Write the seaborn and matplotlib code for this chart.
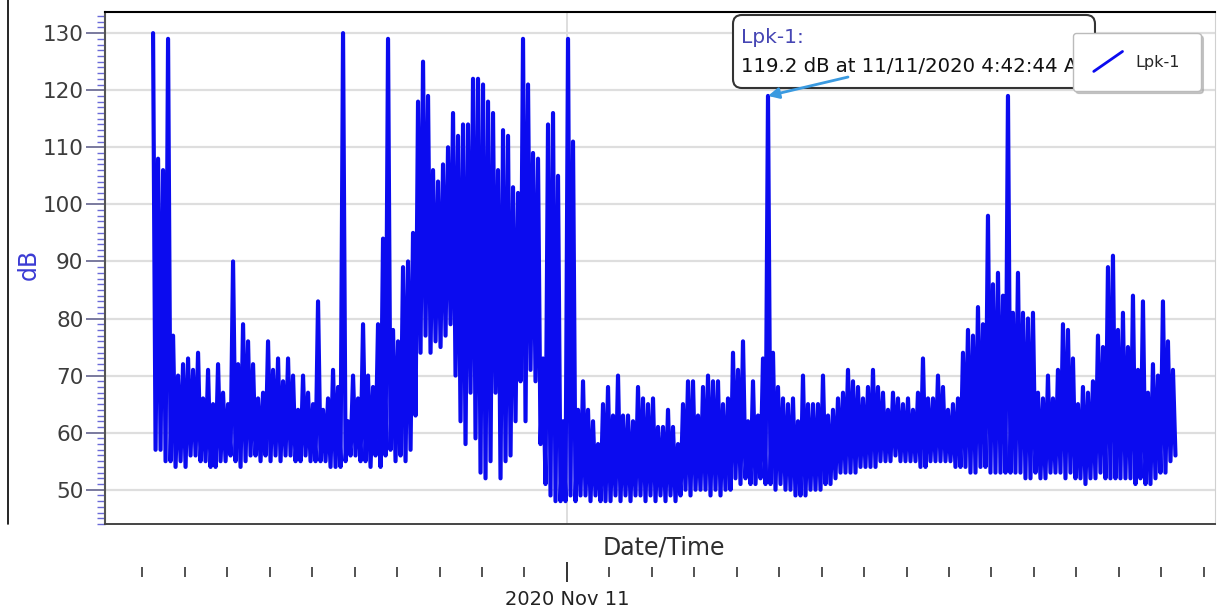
import matplotlib
matplotlib.use("Agg")
import matplotlib.pyplot as plt
import matplotlib.dates as mdates
from matplotlib.ticker import MultipleLocator
from matplotlib.lines import Line2D
from matplotlib.patches import FancyBboxPatch
from matplotlib.legend_handler import HandlerBase
import pandas as pd
import seaborn as sns

# Sampling of the logger trace (alternating upper / lower readings)
START = "2020-11-10 14:15:00"
STEP = "212s"
X_MIN = "2020-11-10 13:07"
X_MAX = "2020-11-11 15:16"

# Lpk-1 readings in dB, split by time span
seg_a = [130, 57, 108, 57, 106, 55, 129, 55, 77, 54, 70, 55, 72, 54, 73, 56, 71, 56, 74, 55,
         66, 55, 71, 54, 65, 54, 72, 55, 67, 55, 65, 56, 90, 55, 72, 54, 79, 55, 76, 56,
         72, 56, 66, 55, 67, 56, 76, 55, 71, 56, 73, 55, 69, 56, 73, 56, 70, 55, 64, 55,
         70, 56, 67, 55, 65, 55, 83, 55, 64, 55, 66, 54, 71, 54, 68, 54, 130, 55, 62, 56]
seg_b = [70, 56, 66, 55, 79, 55, 70, 54, 68, 56, 79, 54, 94, 56, 129, 57, 78, 55, 76, 56,
         89, 55, 90, 57, 95, 63, 118, 74, 125, 77, 119, 74, 106, 76, 104, 75, 107, 77, 110, 79,
         116, 70, 112, 62, 114, 58, 114, 67, 122, 59, 122, 53, 121, 52, 118, 55, 116, 67, 106, 52,
         113, 55, 112, 56, 103, 62, 102, 69, 129, 62, 121, 71, 109, 69, 108, 58, 73, 51, 114, 49,
         116, 48, 105, 48]
seg_c = [62, 48, 129, 49, 111, 48, 64, 49, 69, 49, 64, 48, 62, 49, 58, 48, 65, 48, 68, 48,
         63, 49, 70, 48, 63, 49, 63, 48, 62, 49, 68, 49, 66, 48, 65, 49, 66, 48, 61, 49,
         61, 48, 64, 49, 61, 48, 58, 49, 65, 50, 69, 49, 69, 50, 63, 50, 68, 50, 70, 49,
         69, 50, 69, 49, 65, 50, 66, 50, 74, 52, 71, 51, 76, 52, 62, 51, 69, 51, 63, 52,
         73, 51]
seg_d = [119, 51, 74, 50, 68, 51, 66, 50, 65, 50, 66, 49, 62, 49, 70, 49, 65, 50, 65, 50,
         65, 50, 70, 51, 63, 51, 64, 52, 66, 53, 67, 53, 71, 53, 69, 53, 68, 54, 66, 54,
         68, 54, 71, 54, 68, 55, 67, 55, 64, 55, 67, 56, 66, 55, 65, 55, 66, 55, 64, 55,
         67, 54, 73, 54, 66, 55, 66, 55, 70, 55, 68, 55, 64, 55, 65, 54, 66, 54, 74, 54,
         78, 53]
seg_e = [77, 53, 82, 54, 79, 54, 98, 53, 86, 53, 88, 53, 84, 53, 119, 53, 81, 53, 88, 53,
         81, 52, 80, 52, 81, 53, 67, 52, 66, 52, 70, 53, 66, 53, 71, 53, 79, 52, 78, 53,
         73, 52, 65, 52, 68, 51, 67, 52, 69, 52, 77, 53, 75, 52, 89, 52, 91, 52, 78, 52,
         81, 52, 75, 52, 84, 51, 71, 52, 83, 51, 67, 51, 72, 52, 70, 53, 83, 53, 76, 55,
         71, 56]

Y_TICKS = [50, 60, 70, 80, 90, 100, 110, 120, 130]
SERIES = "Lpk-1"
PEAK_TEXT = "119.2 dB at 11/11/2020 4:42:44 AM"
PEAK_WINDOW = ("2020-11-11 03:00", "2020-11-11 07:00")

LINE_COLOR = "#0b0bef"


class DiagonalLineHandler(HandlerBase):
    # legend sample drawn as a slanted stroke
    def create_artists(self, legend, orig_handle, xdescent, ydescent,
                       width, height, fontsize, trans):
        line = Line2D([-xdescent, -xdescent + width],
                      [-ydescent - 0.15 * height, -ydescent + 1.15 * height],
                      color=orig_handle.get_color(), lw=2.0)
        line.set_transform(trans)
        return [line]


values = seg_a + seg_b + seg_c + seg_d + seg_e
df = pd.DataFrame({"time": pd.date_range(START, periods=len(values), freq=STEP),
                   "dB": values})

sns.set_style("white")
plt.rcParams["font.family"] = ["DejaVu Sans"]

fig = plt.figure(figsize=(12.19, 6.10), dpi=100, facecolor="white")
ax = fig.add_axes([0.0861, 0.1410, 0.9106, 0.8393])
tick_ax = fig.add_axes([0.0861, 0.0623, 0.9106, 0.0001], sharex=ax)

sns.lineplot(data=df, x="time", y="dB", ax=ax, color=LINE_COLOR, lw=3.0,
             estimator=None, sort=False, label=SERIES, zorder=3)

# axes limits and ticks
ax.set_xlim(pd.Timestamp(X_MIN), pd.Timestamp(X_MAX))
ax.set_ylim(44.0, 133.7)
ax.set_yticks(Y_TICKS)
ax.yaxis.set_minor_locator(MultipleLocator(1))
ax.xaxis.set_major_locator(mdates.DayLocator())
ax.xaxis.set_minor_locator(mdates.HourLocator())
ax.xaxis.set_major_formatter(mdates.DateFormatter("%Y %b %d"))

ax.grid(axis="y", which="major", color="#dedede", lw=1.6)
ax.grid(axis="x", which="major", color="#dedede", lw=1.4)
ax.set_axisbelow(True)

ax.tick_params(axis="x", which="both", length=0, bottom=False, labelbottom=False)
ax.tick_params(axis="y", which="major", left=True, length=13.5, width=1.4, color="#7a7a9e",
               labelsize=15.5, labelcolor="#3c3c3c", pad=2)
ax.tick_params(axis="y", which="minor", left=True, length=5.5, width=1.0, color="#6a6ad8")

ax.spines["top"].set_color("black")
ax.spines["top"].set_linewidth(1.5)
ax.spines["left"].set_color("#555555")
ax.spines["left"].set_linewidth(1.5)
ax.spines["bottom"].set_color("#444444")
ax.spines["bottom"].set_linewidth(1.4)
ax.spines["right"].set_color("#d0d0d0")

ax.set_xlabel("Date/Time", fontsize=17, color="#2e2e2e")
ax.xaxis.set_label_coords(0.5036, -0.022)
ax.set_ylabel("dB", fontsize=17, color="#3b3bd4")
ax.yaxis.set_label_coords(-0.058, 0.506)

# detached tick row under the plot
for side in ["top", "bottom", "left", "right"]:
    tick_ax.spines[side].set_visible(False)
tick_ax.patch.set_alpha(0)
tick_ax.set_yticks([])
tick_ax.tick_params(axis="x", which="major", bottom=True, direction="inout", length=14.4,
                    width=1.4, color="#333333", labelsize=14, labelcolor="#222222", pad=6)
tick_ax.tick_params(axis="x", which="minor", bottom=True, direction="inout", length=7.2,
                    width=1.3, color="#444444")
tick_ax.set_xlabel("")

# peak annotation
win = df[(df["time"] > PEAK_WINDOW[0]) & (df["time"] < PEAK_WINDOW[1])]
peak = win.loc[win["dB"].idxmax()]

box = FancyBboxPatch((0.5658, 0.8516), 0.3261, 0.1426,
                     boxstyle="round,pad=0,rounding_size=0.008",
                     mutation_aspect=1110 / 512, transform=ax.transAxes,
                     facecolor="white", edgecolor="#333333", lw=1.5, zorder=4,
                     clip_on=False)
ax.add_patch(box)
ax.text(0.5730, 0.951, SERIES + ":", transform=ax.transAxes, fontsize=14.5,
        color="#4646b4", va="center", ha="left", zorder=4.1)
ax.text(0.5730, 0.8945, PEAK_TEXT, transform=ax.transAxes, fontsize=14.2,
        color="#111111", va="center", ha="left", zorder=4.1)
ax.annotate("", xy=(peak["time"], peak["dB"]), xycoords="data",
            xytext=(0.6694, 0.8730), textcoords="axes fraction",
            arrowprops=dict(arrowstyle="-|>", color="#3a9ae0", lw=2,
                            mutation_scale=16, shrinkA=0, shrinkB=0),
            zorder=4.2)

leg = ax.legend(loc="upper right", bbox_to_anchor=(0.987, 0.959), borderaxespad=0,
                handler_map={Line2D: DiagonalLineHandler()},
                fontsize=11.5, handlelength=1.8, handleheight=1.1,
                borderpad=1.3, handletextpad=0.8, fancybox=True,
                shadow={"color": "#999999", "alpha": 0.5},
                framealpha=1, edgecolor="#bbbbbb")
leg.set_zorder(6)

# stray frame line at the far left
fig.add_artist(Line2D([8 / 1219, 8 / 1219], [86 / 610, 1.0], color="black", lw=1.2))

fig.savefig("out.png", dpi=100, facecolor="white")
